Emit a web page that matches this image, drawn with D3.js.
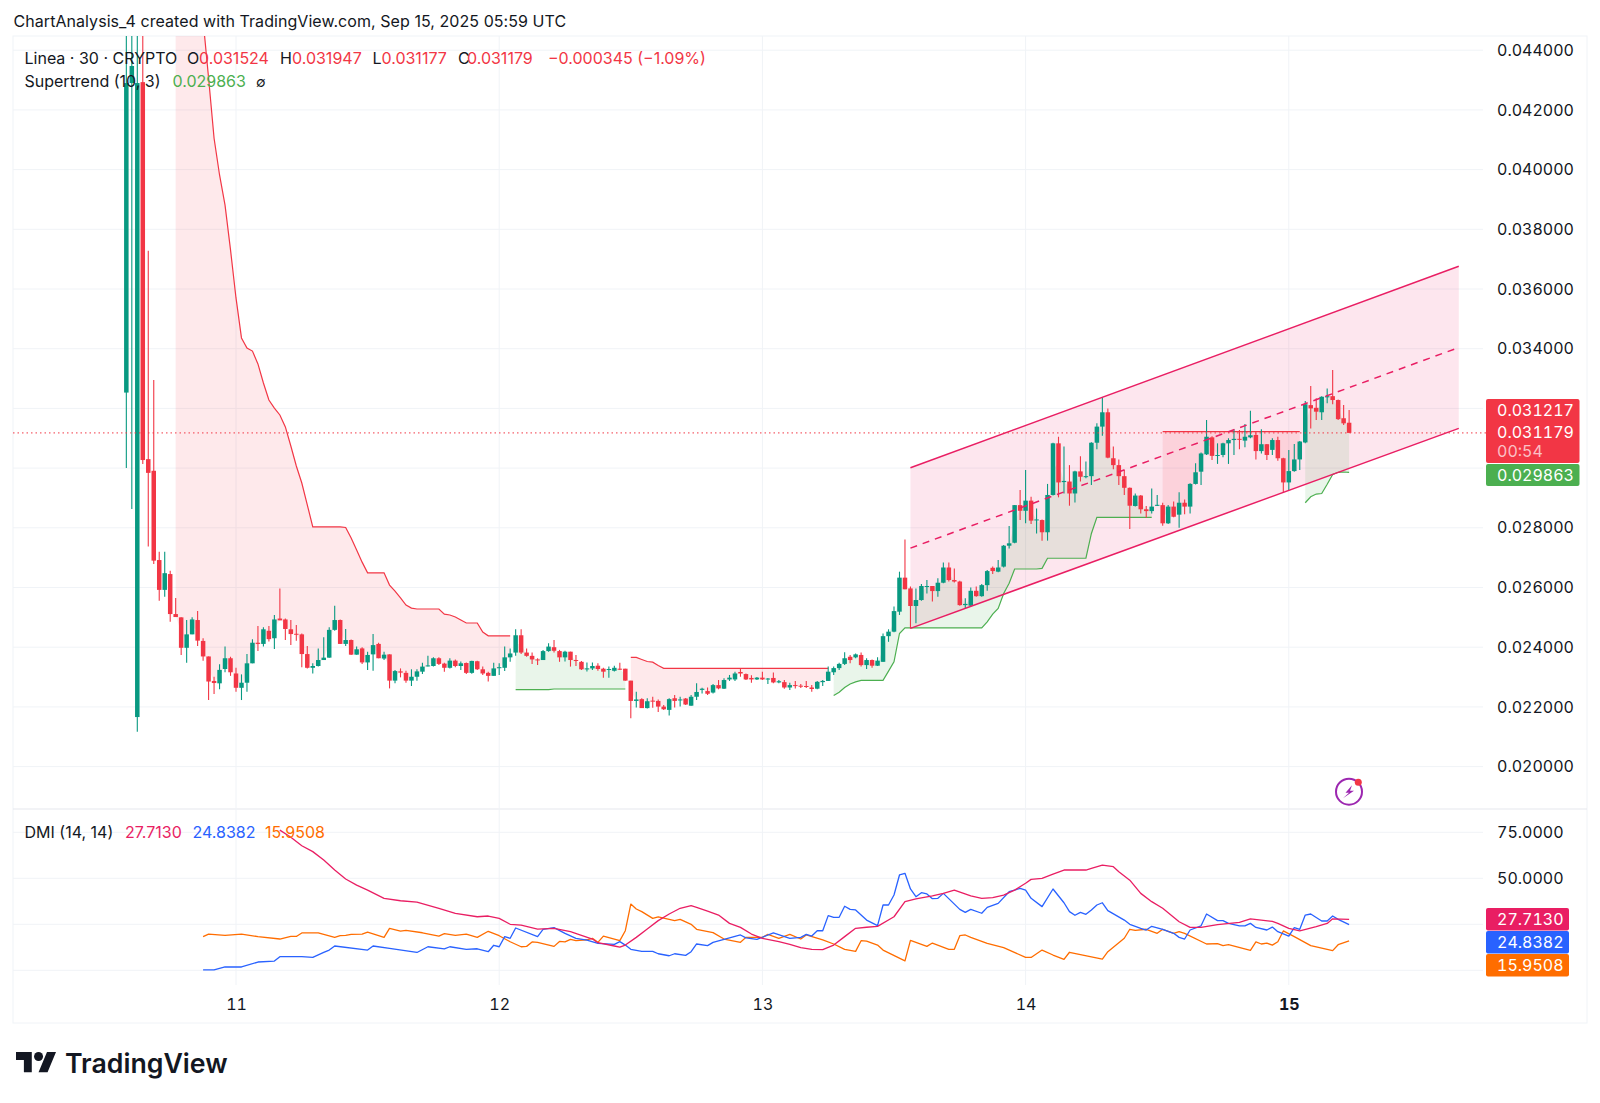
<!DOCTYPE html>
<html>
<head>
<meta charset="utf-8">
<script src="https://cdn.jsdelivr.net/npm/d3@7"></script>
<style>
  body { margin: 0; background: #fff; }
  text { font-family: Inter, "Noto Sans", sans-serif; }
</style>
</head>
<body>
<div id="chart"></div>
<script>
// all prices are in units of 0.00001, bar 0 is Sep 11 00:00 UTC, 30 minute bars
var firstBar = -20;

var opens = [
  3253,4290,2166,4293,3030,2991,2692,2592,2645,2511,
  2500,2398,2443,2491,2421,2369,2287,2279,2327,2363,
  2312,2264,2281,2346,2415,2411,2455,2430,2496,2493,
  2460,2445,2443,2377,2331,2337,2357,2365,2458,2491,
  2411,2424,2375,2396,2349,2376,2411,2362,2376,2288,
  2319,2314,2288,2301,2318,2336,2337,2363,2345,2331,
  2355,2337,2347,2314,2353,2326,2314,2304,2330,2331,
  2366,2382,2440,2382,2371,2359,2357,2387,2400,2387,
  2366,2385,2357,2351,2326,2329,2338,2328,2324,2321,
  2328,2328,2288,2220,2226,2196,2221,2220,2201,2190,
  2229,2223,2228,2204,2234,2257,2253,2248,2273,2261,
  2292,2292,2317,2310,2297,2292,2298,2292,2297,2282,
  2283,2265,2273,2271,2270,2265,2261,2283,2287,2316,
  2330,2344,2368,2366,2374,2340,2357,2338,2351,2437,
  2452,2519,2633,2597,2538,2558,2603,2605,2588,2616,
  2667,2625,2620,2541,2539,2589,2571,2608,2666,2653,
  2670,2740,2750,2876,2857,2891,2826,2826,2785,2910,
  3083,2953,2955,2915,2989,2971,2973,3085,3139,3187,
  3033,3010,2973,2934,2873,2908,2862,2856,2874,2876,
  2815,2871,2844,2884,2871,2947,2988,3046,3103,3042,
  3044,3083,3094,3098,3092,3103,3111,3057,3080,3061,
  3094,3033,2952,2990,3029,3086,3211,3202,3187,3237,
  3241,3228,3167,3152
];
var highs = [
  4600,4700,4600,4700,3728,3295,2720,2720,2656,2565,
  2500,2491,2500,2521,2430,2369,2301,2343,2402,2368,
  2331,2309,2377,2427,2471,2467,2471,2508,2597,2496,
  2491,2474,2446,2404,2346,2396,2433,2467,2539,2493,
  2461,2426,2402,2400,2385,2444,2415,2385,2376,2324,
  2329,2321,2326,2326,2348,2371,2366,2366,2348,2363,
  2359,2352,2349,2355,2355,2335,2318,2348,2346,2402,
  2396,2460,2460,2396,2382,2363,2391,2413,2424,2391,
  2388,2385,2374,2354,2349,2349,2346,2331,2335,2338,
  2348,2328,2288,2251,2229,2229,2234,2225,2206,2229,
  2240,2234,2230,2240,2279,2264,2265,2277,2290,2296,
  2307,2318,2328,2312,2306,2300,2318,2297,2315,2290,
  2290,2281,2287,2277,2287,2273,2287,2290,2335,2335,
  2348,2383,2374,2379,2382,2363,2359,2366,2446,2460,
  2536,2653,2761,2603,2597,2612,2625,2605,2631,2684,
  2684,2664,2623,2564,2600,2603,2612,2659,2670,2692,
  2742,2806,2876,2927,2994,2904,2865,2828,2947,3085,
  3105,3072,3010,2991,3040,3022,3087,3150,3237,3200,
  3072,3029,2994,2935,2915,2910,2873,2932,2910,2884,
  2876,2888,2919,2895,2949,3016,3052,3161,3107,3083,
  3085,3100,3130,3128,3148,3192,3119,3130,3081,3100,
  3105,3035,3061,3081,3091,3225,3275,3234,3241,3267,
  3329,3230,3211,3195
];
var lows = [
  3000,2863,2117,3014,2737,2679,2556,2569,2485,2501,
  2374,2348,2443,2404,2355,2223,2243,2259,2316,2304,
  2251,2223,2251,2346,2387,2402,2419,2394,2490,2424,
  2407,2422,2333,2329,2312,2335,2357,2365,2455,2411,
  2404,2374,2375,2344,2324,2321,2363,2357,2262,2279,
  2299,2281,2270,2288,2310,2335,2335,2340,2318,2329,
  2333,2324,2310,2311,2324,2307,2285,2304,2307,2320,
  2351,2371,2377,2368,2344,2340,2357,2385,2382,2351,
  2352,2335,2337,2324,2319,2324,2321,2298,2298,2319,
  2324,2288,2162,2198,2196,2195,2197,2183,2190,2171,
  2198,2201,2206,2204,2223,2245,2240,2245,2259,2260,
  2287,2287,2301,2290,2281,2290,2290,2277,2279,2279,
  2261,2257,2262,2263,2263,2251,2259,2270,2287,2307,
  2324,2340,2346,2363,2335,2327,2331,2337,2351,2418,
  2450,2508,2594,2463,2480,2556,2580,2553,2569,2614,
  2620,2617,2539,2530,2536,2569,2569,2589,2645,2651,
  2667,2731,2748,2826,2815,2813,2781,2757,2757,2908,
  2902,2915,2874,2885,2955,2966,2943,3063,3108,3033,
  2996,2943,2910,2796,2871,2848,2834,2848,2873,2807,
  2813,2835,2800,2845,2848,2945,2943,3044,3027,3014,
  3036,3014,3044,3063,3070,3100,3029,3049,3027,3044,
  3025,2919,2927,2988,2994,3083,3133,3161,3161,3217,
  3214,3161,3144,3118
];
var closes = [
  4290,4347,4290,3027,2984,2690,2592,2648,2511,2501,
  2398,2443,2493,2422,2369,2285,2280,2324,2363,2316,
  2264,2281,2346,2415,2411,2460,2427,2493,2490,2461,
  2444,2442,2377,2331,2337,2357,2365,2458,2491,2411,
  2424,2375,2393,2349,2374,2407,2363,2375,2288,2320,
  2315,2288,2301,2319,2335,2339,2363,2344,2331,2355,
  2337,2346,2314,2354,2326,2312,2304,2329,2333,2366,
  2379,2440,2382,2371,2359,2357,2387,2402,2388,2366,
  2385,2357,2354,2326,2329,2337,2327,2318,2327,2331,
  2326,2288,2220,2225,2196,2219,2218,2201,2192,2226,
  2220,2225,2208,2234,2250,2261,2244,2273,2262,2290,
  2298,2312,2312,2292,2292,2298,2292,2295,2282,2286,
  2265,2273,2270,2269,2268,2260,2284,2287,2318,2330,
  2344,2363,2357,2376,2340,2357,2338,2355,2437,2452,
  2521,2633,2594,2538,2558,2605,2605,2588,2616,2667,
  2625,2620,2541,2545,2589,2571,2608,2655,2655,2667,
  2740,2748,2876,2857,2891,2824,2828,2785,2910,3083,
  2952,2957,2915,2989,2971,2973,3085,3139,3187,3035,
  3010,2973,2934,2874,2908,2862,2856,2871,2877,2815,
  2871,2837,2884,2871,2947,2986,3049,3105,3041,3044,
  3083,3094,3098,3095,3105,3110,3057,3080,3044,3094,
  3033,2952,2990,3029,3089,3214,3200,3189,3239,3241,
  3228,3164,3150,3118
];

// supertrend runs, each starts at the bar given
var stDownA = [5200,5100,5000,4900,4750,4500,4307,4105,3982,3881,3731,3570,3436,3402,3392,3349,3285,3228,3201,3178,3138,3074,3007,2950,2877,2803,2803,2803,2803,2803,2803,2801,2766,2726,2685,2649,2649,2649,2649,2608,2588,2565,2541,2531,2528,2528,2528,2528,2528,2511,2508,2501,2491,2481,2481,2481,2451,2438,2438,2438,2438,2438];
var stUpA = [2258,2258,2258,2258,2258,2258,2258,2260,2260,2260,2260,2260,2260,2260,2260,2260,2260,2260,2260,2260,2260];
var stDownB = [2366,2366,2359,2352,2350,2339,2329,2329,2329,2329,2329,2329,2329,2329,2329,2329,2329,2329,2329,2329,2329,2329,2329,2329,2329,2329,2329,2329,2329,2329,2329,2329,2329,2329,2329,2329,2329];
var stUpB = [2238,2249,2265,2277,2284,2289,2289,2289,2289,2289,2320,2351,2446,2465,2465,2465,2465,2465,2465,2465,2465,2465,2465,2465,2465,2465,2465,2465,2485,2511,2530,2580,2614,2662,2662,2662,2662,2662,2664,2698,2698,2698,2698,2698,2698,2698,2698,2781,2835,2835,2835,2835,2835,2835,2835,2835,2835,2835,2835];
var stDownC = [3122,3122,3122,3122,3122,3122,3122,3122,3122,3122,3122,3122,3122,3122,3122,3122,3122,3122,3122,3122,3122,3122,3122,3122,3122,3122];
var stUpC = [2884,2904,2913,2915,2946,2979,2986,2987,2986];
var stStarts = [-11, 51, 72, 109, 169, 195];

// parallel channel, hand drawn on the chart
var channelBars = [123, 223];
var channelUpper = [3001, 3676];
var channelMiddle = [2732, 3404];
var channelLower = [2463, 3133];

var priceGrid = [2000,2200,2400,2600,2800,3000,3200,3400,3600,3800,4000,4200,4400];
var priceTicks = [2000,2200,2400,2600,2800,3400,3600,3800,4000,4200,4400];
var dmiGrid = [0, 25, 50, 75];
var dmiTicks = [50, 75];
var dayBars = [0, 48, 96, 144, 192];
var dayLabels = ["11", "12", "13", "14", "15"];
var lastPrice = 3117.9;

// DMI lines, read at the corners of each line
var adxBars = [8,10,12,14,16,18,20,22,24,27,30,33,37,40,44,46,48,50,52,55,58,61,65,66,69,70,71,73,75,77,79,81,83,84,86,88,90,92,94,96,99,101,103,105,107,109,111,113,115,117,120,122,124,127,129,131,134,136,138,140,142,144,145,147,149,151,155,156,158,160,161,163,165,167,169,171,172,174,176,179,183,185,189,190,192,194,197,199,200,203];
var adxValues = [76.2,72.3,67.7,64.5,59.9,54.5,49.6,46.3,43.6,39.1,37.8,37.1,33.7,30.9,29.1,29.5,28.2,25,24.6,22.4,22.8,21,17,15,13.2,12.6,13.7,17.9,22.4,27,30.6,33.7,35.1,34.2,32.2,30,25.5,23.3,19.7,17.4,15.6,14.1,12.3,11.4,11.2,13.7,18.3,22.8,23.4,23.9,29.1,37.3,38.8,40.4,41.8,43.6,40.4,39.1,39.5,40.9,43.6,47.3,49.4,50,52.3,54.5,54.5,55.4,57.2,56.3,53.6,49,41.8,37.3,33.7,28.8,26.4,23.3,23.3,24.8,26,27.9,26.6,25.5,22.8,21.4,23.7,25.5,28,27.71];
var plusBars = [-6,-4,-2,1,4,7,8,12,14,16,17,18,24,25,28,33,35,38,39,42,44,46,47,48,49,50,51,55,56,58,60,62,64,66,69,70,71,72,74,76,77,79,80,82,83,84,86,87,89,92,93,95,98,101,103,104,105,106,107,108,109,110,111,112,113,115,117,118,119,120,121,122,123,124,125,126,127,128,129,132,133,134,136,137,139,141,143,144,145,147,149,151,152,153,154,155,156,157,158,159,162,163,165,166,167,169,171,172,173,174,176,177,179,180,181,183,184,185,186,188,189,190,192,193,194,195,196,198,199,200,201,203];
var plusValues = [0.2,0.2,1.8,1.8,4.5,5,7.4,7.4,7,9.7,11,13.2,11,13.2,11.9,9.7,12.8,11.6,12.8,11.4,11.7,10.1,13.6,12.8,18.3,17.4,23,18.3,22.3,23.2,20.1,17.4,16.4,14.6,14.1,15.6,13.7,11.4,10.3,10.3,9,7.9,9,8.1,10.1,14.3,13.4,15.2,16.8,19.2,17.6,16.8,20.3,17.4,17.9,19.5,18.6,21.5,21.5,29.7,28.8,28.8,34.8,33.1,32.8,27.3,24.3,35.5,35.5,40.9,51.8,52.7,44.2,40,42.2,41.5,38.9,39.1,41.8,33.1,31.5,33.1,31,34.2,36.4,42.7,44.5,43.6,39.1,34.6,44.2,36.7,31.9,29.9,31.5,30.4,32.8,35.5,36.7,32.4,27.3,25,22.8,21.9,23.9,22.2,20.1,17.9,17,21.9,24.2,30.6,27,27,25.5,24.1,24.1,25.5,23.3,21.9,23.5,21,18.6,23.2,22.3,30,30.6,26.8,26.8,29.5,27.7,24.84];
var minusBars = [-6,-5,-2,1,4,8,10,11,12,15,18,19,20,21,23,24,27,28,30,31,34,37,38,40,42,44,46,48,50,52,53,54,55,58,59,60,61,62,64,65,66,67,70,71,72,73,74,76,77,80,81,83,84,87,89,92,93,96,97,99,101,103,104,107,109,111,113,114,115,117,118,122,123,126,127,130,131,132,133,134,137,140,144,145,147,149,151,152,158,159,160,162,163,164,166,168,169,171,172,173,177,179,180,181,185,186,187,188,189,190,191,193,196,200,201,203];
var minusValues = [18.3,19.7,19,19.7,18.3,17,18.4,18.4,20.3,20.3,17.9,18.8,19,19.5,19.7,20.8,17.9,22.8,21.3,21.7,20.4,18.6,19.9,19,19.7,17.9,21.2,18.8,15.5,12.8,13,15.4,15.2,13,15.7,15.5,16.8,16.1,16.6,17.4,15.2,18.6,16.1,21.5,36,33.3,31.9,28.2,29,27,27.7,25,22.3,20.5,17,15.2,17.9,17.9,19.5,17.4,19.5,17,19.2,16.5,14.3,11.4,10.3,16.1,15.9,13.7,11,5.1,16.3,13,14.8,11.4,11.4,18.8,19.2,17.9,14.6,12.3,7,7,11,8.3,5.9,9.8,6.1,10.1,12.5,17.4,22.3,21.7,22.3,20.1,22.3,20.1,21,20.1,14.3,14.5,13.4,13.9,10.8,15.4,14.3,14.8,13.7,15.5,21.4,18.3,13.4,10.7,13.9,15.95];

var upColor = "#089981", downColor = "#f23645";
var stUpColor = "#4caf50", stDownColor = "#f23645";
var channelColor = "#e91e63";
var adxColor = "#e91e63", plusColor = "#2962ff", minusColor = "#ff6d00";
var gridColor = "#f0f3f7", textColor = "#131722";

var paneLeft = 13, plotRight = 1483, paneRight = 1587, paneTop = 36, paneSplit = 809, timeTop = 985, paneBottom = 1023;

var x = d3.scaleLinear().domain([0, 192]).range([236, 1288.8]);
var y = d3.scaleLinear().domain([2000, 4400]).range([766.6, 50.2]);
var yDmi = d3.scaleLinear().domain([0, 75]).range([970.3, 832.3]);

var svg = d3.select("#chart").append("svg")
  .attr("width", 1600)
  .attr("height", 1103)
  .style("display", "block");

var defs = svg.append("defs");
defs.append("clipPath").attr("id", "priceClip").append("rect")
  .attr("x", paneLeft).attr("y", paneTop).attr("width", plotRight - paneLeft).attr("height", paneSplit - paneTop);
defs.append("clipPath").attr("id", "dmiClip").append("rect")
  .attr("x", paneLeft).attr("y", paneSplit).attr("width", plotRight - paneLeft).attr("height", timeTop - paneSplit);

// frame and grid
svg.append("rect")
  .attr("x", paneLeft).attr("y", paneTop)
  .attr("width", paneRight - paneLeft).attr("height", paneBottom - paneTop)
  .attr("fill", "none").attr("stroke", gridColor);
svg.append("line")
  .attr("x1", paneLeft).attr("x2", paneRight)
  .attr("y1", paneSplit).attr("y2", paneSplit)
  .attr("stroke", "#e6e8ee").attr("stroke-width", 1.2);

var grid = svg.append("g").attr("stroke", gridColor);
grid.selectAll(".h1").data(priceGrid).enter().append("line")
  .attr("x1", paneLeft).attr("x2", plotRight)
  .attr("y1", function(d) { return y(d); }).attr("y2", function(d) { return y(d); });
grid.selectAll(".h2").data(dmiGrid).enter().append("line")
  .attr("x1", paneLeft).attr("x2", plotRight)
  .attr("y1", function(d) { return yDmi(d); }).attr("y2", function(d) { return yDmi(d); });
grid.selectAll(".v").data(dayBars).enter().append("line")
  .attr("x1", function(d) { return x(d); }).attr("x2", function(d) { return x(d); })
  .attr("y1", paneTop).attr("y2", timeTop);

var price = svg.append("g").attr("clip-path", "url(#priceClip)");

// supertrend fill goes from the middle of the candle body to the line
function drawSupertrend(values, start, color, fill) {
  var bars = values.map(function(v, i) { return start + i; });
  var area = d3.area()
    .x(function(b) { return x(b); })
    .y0(function(b) { var k = b - firstBar; return y((opens[k] + closes[k]) / 2); })
    .y1(function(b) { return y(values[b - start]); });
  var line = d3.line()
    .x(function(b) { return x(b); })
    .y(function(b) { return y(values[b - start]); });
  price.append("path").datum(bars).attr("d", area).attr("fill", fill);
  price.append("path").datum(bars).attr("d", line)
    .attr("fill", "none").attr("stroke", color).attr("stroke-width", 1.2);
}
var stRed = "rgba(242,54,69,0.11)", stGreen = "rgba(76,175,80,0.12)";

// channel fill
price.append("path")
  .datum(channelBars)
  .attr("d", d3.area()
    .x(function(b) { return x(b); })
    .y0(function(b, i) { return y(channelLower[i]); })
    .y1(function(b, i) { return y(channelUpper[i]); }))
  .attr("fill", "rgba(233,30,99,0.11)");

drawSupertrend(stDownA, stStarts[0], stDownColor, stRed);
drawSupertrend(stUpA, stStarts[1], stUpColor, stGreen);
drawSupertrend(stDownB, stStarts[2], stDownColor, stRed);
drawSupertrend(stUpB, stStarts[3], stUpColor, stGreen);
drawSupertrend(stDownC, stStarts[4], stDownColor, stRed);
drawSupertrend(stUpC, stStarts[5], stUpColor, stGreen);

// candles
var bars = d3.range(opens.length);
var bodyWidth = 4.5;
price.selectAll(".wick").data(bars).enter().append("line")
  .attr("x1", function(k) { return x(k + firstBar); })
  .attr("x2", function(k) { return x(k + firstBar); })
  .attr("y1", function(k) { return y(highs[k]); })
  .attr("y2", function(k) { return y(lows[k]); })
  .attr("stroke", function(k) { return closes[k] >= opens[k] ? upColor : downColor; })
  .attr("stroke-width", 1.1);
price.selectAll(".body").data(bars).enter().append("rect")
  .attr("x", function(k) { return x(k + firstBar) - bodyWidth / 2; })
  .attr("width", bodyWidth)
  .attr("y", function(k) { return y(Math.max(opens[k], closes[k])); })
  .attr("height", function(k) { return Math.max(1, Math.abs(y(opens[k]) - y(closes[k]))); })
  .attr("fill", function(k) { return closes[k] >= opens[k] ? upColor : downColor; });

// channel lines
function channelLine(values, dash) {
  price.append("path")
    .datum(channelBars)
    .attr("d", d3.line()
      .x(function(b) { return x(b); })
      .y(function(b, i) { return y(values[i]); }))
    .attr("fill", "none")
    .attr("stroke", channelColor)
    .attr("stroke-width", 1.5)
    .attr("stroke-dasharray", dash);
}
channelLine(channelUpper, null);
channelLine(channelMiddle, "7 6");
channelLine(channelLower, null);

// last price line
svg.append("line")
  .attr("x1", paneLeft).attr("x2", 1486)
  .attr("y1", y(lastPrice)).attr("y2", y(lastPrice))
  .attr("stroke", downColor)
  .attr("stroke-width", 1)
  .attr("stroke-dasharray", "1.5 3");

// DMI lines
var dmi = svg.append("g").attr("clip-path", "url(#dmiClip)");
function dmiLine(xs, ys, color) {
  dmi.append("path")
    .datum(xs)
    .attr("d", d3.line()
      .x(function(b) { return x(b); })
      .y(function(b, i) { return yDmi(ys[i]); }))
    .attr("fill", "none")
    .attr("stroke", color)
    .attr("stroke-width", 1.3)
    .attr("stroke-linejoin", "round");
}
dmiLine(minusBars, minusValues, minusColor);
dmiLine(plusBars, plusValues, plusColor);
dmiLine(adxBars, adxValues, adxColor);

// axes
var priceAxis = svg.append("g")
  .attr("transform", "translate(1497,0)")
  .call(d3.axisRight(y).tickValues(priceTicks).tickSize(0).tickPadding(0)
    .tickFormat(function(d) { return (d / 100000).toFixed(6); }));
var dmiAxis = svg.append("g")
  .attr("transform", "translate(1497,0)")
  .call(d3.axisRight(yDmi).tickValues(dmiTicks).tickSize(0).tickPadding(0)
    .tickFormat(d3.format(".4f")));
var timeAxis = svg.append("g")
  .attr("transform", "translate(0,999)")
  .call(d3.axisBottom(x).tickValues(dayBars).tickSize(0).tickPadding(0)
    .tickFormat(function(d, i) { return dayLabels[i]; }));
[priceAxis, dmiAxis, timeAxis].forEach(function(a) {
  a.select(".domain").remove();
  a.selectAll("text")
    .attr("fill", textColor)
    .style("font-family", "Inter")
    .style("font-size", "16px")
    .style("font-variant-numeric", "tabular-nums");
});
timeAxis.selectAll("text").filter(function(d) { return d === 192; }).style("font-weight", 700);

// text helper
function label(txt, px, py, color, size, weight) {
  return svg.append("text")
    .attr("x", px).attr("y", py)
    .attr("fill", color || textColor)
    .style("font-size", (size || 16) + "px")
    .style("font-weight", weight || 400)
    .text(txt);
}
// the price scale tags use even width digits like the axis
function tagLabel(txt, px, py, color) {
  return label(txt, px, py, color).style("font-variant-numeric", "tabular-nums");
}

label("ChartAnalysis_4 created with TradingView.com, Sep 15, 2025 05:59 UTC", 13.5, 27)
  .style("letter-spacing", "0.06px");

// legends
label("Linea · 30 · CRYPTO", 24.5, 64);
label("O", 187, 64);
label("0.031524", 199, 64, downColor);
label("H", 280, 64);
label("0.031947", 292, 64, downColor);
label("L", 372.5, 64);
label("0.031177", 381.5, 64, downColor);
label("C", 458, 64);
label("0.031179", 467, 64, downColor);
label("−0.000345 (−1.09%)", 548, 64, downColor);
label("Supertrend (10, 3)", 24.5, 86.5);
label("0.029863", 172.5, 86.5, stUpColor);
label("∅", 256, 86.5, textColor, 14);
label("DMI (14, 14)", 24.5, 837.5);
label("27.7130", 125, 837.5, adxColor);
label("24.8382", 192.5, 837.5, plusColor);
label("15.9508", 265, 837.5, minusColor);

// price scale tags
function tag(px, py, w, h, color) {
  svg.append("rect")
    .attr("x", px).attr("y", py).attr("width", w).attr("height", h)
    .attr("rx", 2).attr("fill", color);
}
tag(1486, 399, 93.5, 64, downColor);
tag(1486, 464, 93.5, 22, stUpColor);
tagLabel("0.031217", 1497, 416, "#fff");
tagLabel("0.031179", 1497, 438, "#fff");
tagLabel("00:54", 1497, 457, "rgba(255,255,255,0.7)");
tagLabel("0.029863", 1497, 480.5, "#fff");
tag(1486, 908, 83, 22.5, adxColor);
tag(1486, 931, 83, 22.5, plusColor);
tag(1486, 954, 83, 22.5, minusColor);
tagLabel("27.7130", 1497, 925, "#fff");
tagLabel("24.8382", 1497, 948, "#fff");
tagLabel("15.9508", 1497, 971, "#fff");

// bolt icon
var icon = svg.append("g").attr("transform", "translate(1349,791.7)");
icon.append("circle").attr("r", 13).attr("fill", "#fff").attr("stroke", "#9c27b0").attr("stroke-width", 2);
icon.append("path").attr("d", "M3 -6.5 L-3.5 1 L0 1 L-6 6.5 L5 -1 L1 -1 Z").attr("fill", "#9c27b0");
svg.append("circle").attr("cx", 1358.3).attr("cy", 782.3).attr("r", 3.5).attr("fill", "#f23645");

// logo
var logo = svg.append("g").attr("transform", "translate(16,1047.5) scale(1.127)").attr("fill", "#131722");
logo.append("path").attr("d", "M14 22H7V11H0V4h14v18zM28 22h-8l7.5-18h8L28 22z");
logo.append("circle").attr("cx", 20).attr("cy", 8).attr("r", 4);
label("TradingView", 65, 1073, "#131722", 26.7, 600);
</script>
</body>
</html>
